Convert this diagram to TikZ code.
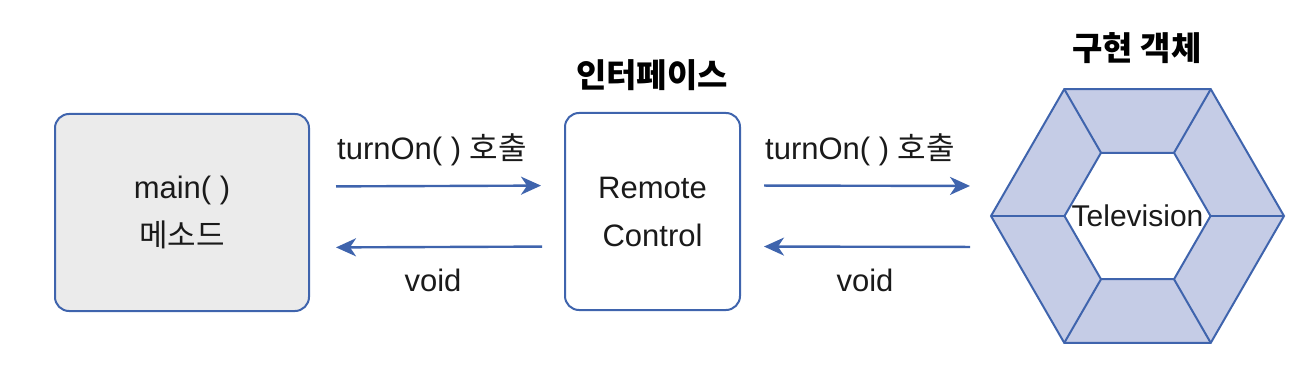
\documentclass[tikz,border=0pt]{standalone}
\usepackage{fontspec}
\setmainfont{Liberation Sans}
\newfontfamily\kr{Noto Sans CJK KR}
\usetikzlibrary{arrows.meta,shapes.geometric}
\definecolor{edgeblue}{HTML}{3F64AD}
\definecolor{hexfill}{HTML}{C5CCE6}
\definecolor{boxgray}{HTML}{EBEBEB}
\definecolor{ink}{HTML}{1A1A1A}
\tikzset{
  box/.style={draw=edgeblue,line width=1pt,rounded corners=7pt,minimum height=98.5pt,
    align=center,text=ink,font=\fontsize{15.5}{24}\selectfont},
  hexring/.style={regular polygon,regular polygon sides=6,inner sep=0pt,outer sep=0pt,
    draw=edgeblue,line width=1pt},
  flow/.style={-{Stealth[length=10pt,width=9pt,inset=3pt]},draw=edgeblue,line width=1.2pt},
  lbl/.style={text=ink,font=\fontsize{15.5}{18}\selectfont},
  head/.style={text=black,font=\kr\bfseries\fontsize{16.5}{20}\selectfont},
}
\begin{document}
\begin{tikzpicture}[x=0.5pt,y=-0.5pt]
  \useasboundingbox (0,0) rectangle (1300,390);
  % caller
  \node[box,fill=boxgray,minimum width=127pt] (main) at (182,212.5) {main( )\\{\kr 메소드}};
  % interface
  \node[box,fill=white,minimum width=87.5pt] (remote) at (652.5,211.5) {Remote\\Control};
  \node[head] (ifhead) at (652,75) {인터페이스};
  % implementation object: hexagon ring
  \node[hexring,fill=hexfill,minimum size=146.5pt] (tv) at (1137.5,216) {};
  \node[hexring,fill=white,minimum size=73pt] (tvin) at (tv.center) {};
  \foreach \i in {1,...,6}
    \draw[edgeblue,line width=1pt] (tv.corner \i) -- (tvin.corner \i);
  \node[text=ink,font=\fontsize{15}{16}\selectfont] (tvname) at (tvin.center) {Television};
  \node[head] (implhead) at (1137,48) {구현 객체};
  % calls and returns
  \draw[flow,shorten <=13pt,shorten >=11.5pt]
    ([yshift=13pt]main.east) -- ([yshift=13pt]remote.west);
  \draw[flow,shorten <=11pt,shorten >=13pt]
    ([yshift=-17.5pt]remote.west) -- ([yshift=-17.5pt]main.east);
  \draw[flow,shorten <=11.5pt,shorten >=10.5pt]
    ([yshift=13pt]remote.east) -- ([yshift=15pt]tv.west);
  \draw[flow,shorten <=10.5pt,shorten >=11.5pt]
    ([yshift=-15.5pt]tv.west) -- ([yshift=-17.5pt]remote.east);
  \node[lbl] (call1) at (432,150) {turnOn( ) {\kr 호출}};
  \node[lbl] (ret1) at (433,280) {void};
  \node[lbl] (call2) at (860,150) {turnOn( ) {\kr 호출}};
  \node[lbl] (ret2) at (865,280) {void};
\end{tikzpicture}
\end{document}
